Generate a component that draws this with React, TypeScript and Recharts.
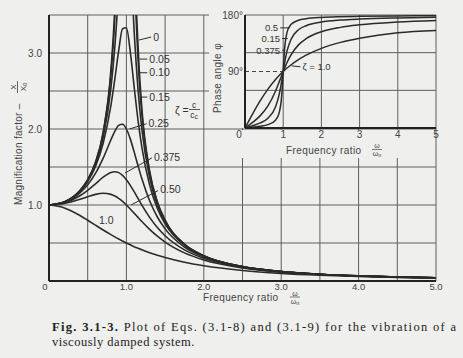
import React from 'react';
import { LineChart, Line, XAxis, YAxis, CartesianGrid, ReferenceLine, ReferenceDot } from 'recharts';

// ---------- Main chart: magnification factor vs frequency ratio ----------
const MAIN_R = [0, 0.2, 0.4, 0.5, 0.6, 0.7, 0.8, 0.85, 0.9, 0.95, 1.0, 1.05, 1.1, 1.15, 1.2, 1.3, 1.4, 1.5, 1.75, 2.0, 2.5, 3.0, 3.5, 4.0, 4.5, 5.0];
const MAG_Z0 = [1, 1.042, 1.19, 1.333, 1.563, 1.96, 2.78, 3.6, 5.26, 10.26, null, 9.76, 4.76, 3.1, 2.27, 1.449, 1.042, 0.8, 0.485, 0.333, 0.19, 0.125, 0.089, 0.067, 0.052, 0.042];
const MAG_Z005 = [1, 1.041, 1.189, 1.33, 1.556, 1.943, 2.712, 3.446, 4.757, 7.35, 10.0, 6.82, 4.22, 2.92, 2.193, 1.424, 1.031, 0.794, 0.483, 0.333, 0.19, 0.125, 0.089, 0.067, 0.052, 0.042];
const MAG_Z010 = [1, 1.041, 1.185, 1.322, 1.536, 1.891, 2.538, 3.073, 3.821, 4.68, 5.0, 4.28, 3.288, 2.525, 1.995, 1.356, 1.0, 0.778, 0.478, 0.33, 0.19, 0.125, 0.089, 0.067, 0.052, 0.042];
const MAG_Z015 = [1, 1.04, 1.179, 1.307, 1.504, 1.813, 2.311, 2.654, 3.029, 3.32, 3.333, 3.019, 2.556, 2.117, 1.759, 1.262, 0.954, 0.753, 0.47, 0.327, 0.189, 0.124, 0.089, 0.067, 0.052, 0.042];
const MAG_Z025 = [1, 1.036, 1.158, 1.265, 1.415, 1.617, 1.858, 1.97, 2.047, 2.062, 2.0, 1.87, 1.699, 1.517, 1.344, 1.055, 0.842, 0.686, 0.446, 0.316, 0.185, 0.123, 0.088, 0.066, 0.052, 0.041];
const MAG_Z0375 = [1, 1.029, 1.121, 1.193, 1.278, 1.366, 1.429, 1.438, 1.426, 1.39, 1.333, 1.259, 1.175, 1.086, 0.998, 0.837, 0.703, 0.595, 0.409, 0.298, 0.179, 0.12, 0.087, 0.065, 0.051, 0.041];
const MAG_Z050 = [1, 1.02, 1.075, 1.109, 1.14, 1.155, 1.14, 1.118, 1.087, 1.047, 1.0, 0.948, 0.893, 0.837, 0.782, 0.679, 0.589, 0.512, 0.37, 0.277, 0.172, 0.117, 0.085, 0.064, 0.051, 0.041];
const MAG_Z100 = [1, 0.962, 0.862, 0.8, 0.735, 0.671, 0.61, 0.581, 0.552, 0.526, 0.5, 0.476, 0.452, 0.431, 0.41, 0.372, 0.338, 0.308, 0.246, 0.2, 0.138, 0.1, 0.0755, 0.0588, 0.047, 0.0385];

const MAIN_X_TICKS = [0, 1, 2, 3, 4, 5];
const MAIN_X_LABELS = ['0', '1.0', '2.0', '3.0', '4.0', '5.0'];
const MAIN_X_GRID = [0.5, 1, 1.5, 2, 2.5, 3, 3.5, 4, 4.5, 5];
const MAIN_Y_TICKS = [1, 2, 3];
const MAIN_Y_LABELS = ['1.0', '2.0', '3.0'];
const MAIN_Y_GRID = [0.5, 1, 1.5, 2, 2.5, 3, 3.5];

// ---------- Inset: phase angle vs frequency ratio ----------
const PHASE_R = [0, 0.2, 0.4, 0.6, 0.8, 0.9, 0.95, 0.97, 0.99, 1.0, 1.01, 1.03, 1.05, 1.1, 1.2, 1.4, 1.6, 2, 2.5, 3, 4, 5];
const PHASE_Z005 = [0, 1.2, 2.7, 5.4, 12.5, 25.3, 44.3, 58.6, 78.6, 90, 101.3, 120.6, 134.3, 152.4, 164.7, 171.7, 174.1, 176.2, 177.3, 177.9, 178.5, 178.8];
const PHASE_Z015 = [0, 3.6, 8.1, 15.7, 33.7, 54.9, 71.1, 78.5, 86.2, 90, 93.8, 100.9, 108.0, 122.5, 140.7, 156.4, 162.9, 168.7, 171.9, 173.6, 175.4, 176.4];
const PHASE_Z0375 = [0, 8.9, 19.7, 35.1, 59.0, 74.3, 82.2, 85.4, 88.5, 90, 91.5, 94.5, 97.4, 104.3, 116.1, 132.4, 142.4, 153.4, 160.3, 164.3, 168.7, 171.1];
const PHASE_Z100 = [0, 22.6, 43.6, 61.9, 77.3, 84.0, 87.1, 88.3, 89.4, 90, 90.6, 91.7, 92.8, 95.5, 100.4, 108.9, 116.0, 126.9, 136.4, 143.1, 151.9, 155.5];

const INSET_X_TICKS = [0, 1, 2, 3, 4, 5];
const INSET_Y_TICKS = [90, 180];
const INSET_Y_GRID = [60, 120, 180];

const PAPER = '#efefed';
const INK = '#2b2b2b';
const GRID = '#5e5e5e';
const SANS = '"Liberation Sans", Arial, sans-serif';
const SERIF = '"Liberation Serif", "Times New Roman", serif';

const toData = (xs: number[], ys: (number | null)[]) => xs.map((x, i) => ({ x, y: ys[i] }));

const MAIN_SERIES = [MAG_Z0, MAG_Z005, MAG_Z010, MAG_Z015, MAG_Z025, MAG_Z0375, MAG_Z050, MAG_Z100].map((ys) => toData(MAIN_R, ys));
const INSET_SERIES = [PHASE_Z005, PHASE_Z015, PHASE_Z0375, PHASE_Z100].map((ys) => toData(PHASE_R, ys));

const labelStyle = { fill: '#333', fontSize: 10.5, fontFamily: SANS };
const insetLabelStyle = { fill: '#333', fontSize: 9.5, fontFamily: SANS };

const MainXTick = (props: any) => {
  const { x, y, payload } = props;
  const idx = MAIN_X_TICKS.indexOf(payload.value);
  const shift = payload.value === 0 ? -4 : 0;
  return (
    <text x={x + shift} y={y} dy="0.71em" textAnchor="middle" fill="#444" fontSize={9.5} fontFamily={SANS}>
      {idx >= 0 ? MAIN_X_LABELS[idx] : ''}
    </text>
  );
};

const InsetXTick = (props: any) => {
  const { x, y, payload } = props;
  const shift = payload.value === 0 ? -6 : 0;
  return (
    <text x={x + shift} y={y} dy="0.71em" textAnchor="middle" fill="#444" fontSize={10} fontFamily={SANS}>
      {String(payload.value)}
    </text>
  );
};

const MAIN_ANNOT = [
  { seg: [{ x: 1.16, y: 3.17 }, { x: 1.32, y: 3.21 }], text: '0', at: { x: 1.32, y: 3.21 } },
  { seg: [{ x: 1.17, y: 2.92 }, { x: 1.27, y: 2.92 }], text: '0.05', at: { x: 1.27, y: 2.92 } },
  { seg: [{ x: 1.17, y: 2.74 }, { x: 1.27, y: 2.74 }], text: '0.10', at: { x: 1.27, y: 2.74 } },
  { seg: [{ x: 1.17, y: 2.42 }, { x: 1.27, y: 2.42 }], text: '0.15', at: { x: 1.27, y: 2.42 } },
  { seg: [{ x: 1.04, y: 2.0 }, { x: 1.26, y: 2.07 }], text: '0.25', at: { x: 1.26, y: 2.07 } },
  { seg: [{ x: 0.98, y: 1.42 }, { x: 1.33, y: 1.62 }], text: '0.375', at: { x: 1.33, y: 1.63 } },
  { seg: [{ x: 1.06, y: 1.0 }, { x: 1.41, y: 1.19 }], text: '0.50', at: { x: 1.41, y: 1.21 } },
];

const INSET_ANNOT = [
  { seg: [{ x: 0.92, y: 159.5 }, { x: 1.17, y: 159.5 }], text: '0.5', at: { x: 0.92, y: 159.5 }, pos: 'left' },
  { seg: [{ x: 0.97, y: 142.5 }, { x: 1.12, y: 142.5 }], text: '0.15', at: { x: 0.97, y: 142.5 }, pos: 'left' },
  { seg: [{ x: 0.97, y: 124 }, { x: 1.05, y: 124 }], text: '0.375', at: { x: 0.97, y: 124 }, pos: 'left' },
  { seg: [{ x: 1.22, y: 99 }, { x: 1.45, y: 97.5 }], text: 'ζ = 1.0', at: { x: 1.45, y: 97.5 }, pos: 'right' },
];

export default function App() {
  return (
    <div style={{ position: 'absolute', left: 0, top: 0, width: 463, height: 358, background: PAPER, overflow: 'hidden' }}>
      <div style={{ position: 'absolute', left: 0, top: 0 }}>
        <LineChart width={463} height={358} margin={{ top: 15, right: 27, bottom: 76, left: 48 }}>
          <CartesianGrid stroke={GRID} strokeWidth={1} horizontalValues={MAIN_Y_GRID} verticalValues={MAIN_X_GRID} />
          <XAxis
            type="number"
            dataKey="x"
            domain={[0, 5]}
            ticks={MAIN_X_TICKS}
            interval={0}
            allowDataOverflow
            height={1}
            tickLine={false}
            tickSize={0}
            tickMargin={2}
            axisLine={{ stroke: '#222', strokeWidth: 2 }}
            tick={(p: any) => <MainXTick {...p} />}
          />
          <YAxis
            type="number"
            domain={[0, 3.5]}
            ticks={MAIN_Y_TICKS}
            interval={0}
            allowDataOverflow
            width={1}
            tickLine={false}
            tickSize={0}
            tickMargin={7}
            axisLine={{ stroke: '#222', strokeWidth: 2 }}
            tickFormatter={(v: number) => MAIN_Y_LABELS[MAIN_Y_TICKS.indexOf(v)] ?? ''}
            tick={{ fill: '#444', fontSize: 10, fontFamily: SANS }}
          />
          {MAIN_SERIES.map((d, i) => (
            <Line
              key={'m' + i}
              data={d}
              dataKey="y"
              type="monotone"
              stroke={INK}
              strokeWidth={1.6}
              dot={false}
              activeDot={false}
              isAnimationActive={false}
              connectNulls={false}
            />
          ))}
          {MAIN_ANNOT.map((a, i) => (
            <ReferenceLine key={'ml' + i} segment={a.seg} stroke={INK} strokeWidth={1} />
          ))}
          {MAIN_ANNOT.map((a, i) => (
            <ReferenceDot
              key={'md' + i}
              x={a.at.x}
              y={a.at.y}
              r={0}
              fill="none"
              stroke="none"
              label={{ value: a.text, position: 'right', offset: 2, ...labelStyle }}
            />
          ))}
          <ReferenceDot x={0.74} y={0.8} r={0} fill="none" stroke="none" label={{ value: '1.0', position: 'center', ...labelStyle }} />
        </LineChart>
      </div>

      {/* blank area behind the inset */}
      <div style={{ position: 'absolute', left: 209, top: 14, width: 228, height: 114, background: PAPER }} />
      <div style={{ position: 'absolute', left: 236, top: 129.5, width: 199, height: 28, background: PAPER }} />

      <div style={{ position: 'absolute', left: 0, top: 0 }}>
        <LineChart width={463} height={358} margin={{ top: 15, right: 27, bottom: 229, left: 244 }}>
          <CartesianGrid stroke={GRID} strokeWidth={1} horizontalValues={INSET_Y_GRID} verticalValues={INSET_X_TICKS} />
          <XAxis
            type="number"
            dataKey="x"
            domain={[0, 5]}
            ticks={INSET_X_TICKS}
            interval={0}
            height={1}
            tickLine={false}
            tickSize={0}
            tickMargin={3}
            axisLine={{ stroke: '#222', strokeWidth: 2 }}
            tick={(p: any) => <InsetXTick {...p} />}
          />
          <YAxis
            type="number"
            domain={[0, 180]}
            ticks={INSET_Y_TICKS}
            interval={0}
            width={1}
            tickLine={false}
            tickSize={0}
            tickMargin={2}
            axisLine={{ stroke: '#222', strokeWidth: 2 }}
            tickFormatter={(v: number) => v + '°'}
            tick={{ fill: '#444', fontSize: 10, fontFamily: SANS }}
          />
          <ReferenceLine segment={[{ x: 0, y: 90 }, { x: 1, y: 90 }]} stroke="#444" strokeWidth={1} strokeDasharray="4 3" />
          {INSET_SERIES.map((d, i) => (
            <Line
              key={'p' + i}
              data={d}
              dataKey="y"
              type="monotone"
              stroke={INK}
              strokeWidth={1.5}
              dot={false}
              activeDot={false}
              isAnimationActive={false}
            />
          ))}
          {INSET_ANNOT.map((a, i) => (
            <ReferenceLine key={'il' + i} segment={a.seg} stroke={INK} strokeWidth={1} />
          ))}
          {INSET_ANNOT.map((a, i) => (
            <ReferenceDot
              key={'id' + i}
              x={a.at.x}
              y={a.at.y}
              r={0}
              fill="none"
              stroke="none"
              label={{ value: a.text, position: a.pos as any, offset: 2, ...insetLabelStyle }}
            />
          ))}
        </LineChart>
      </div>

      <svg width={463} height={358} style={{ position: 'absolute', left: 0, top: 0, pointerEvents: 'none' }}>
        {/* main y-axis title */}
        <g transform="translate(18,140) rotate(-90)" fill="#444" fontFamily={SANS}>
          <text x={-65} y={0} dominantBaseline="central" fontSize={10} letterSpacing={0.3}>Magnification factor –</text>
          <text x={53} y={-2.5} textAnchor="middle" fontSize={8}>X</text>
          <line x1={47} y1={-0.5} x2={59} y2={-0.5} stroke="#444" strokeWidth={0.8} />
          <text x={53} y={7.5} textAnchor="middle" fontSize={8}>X<tspan fontSize={6} dy={1.5}>0</tspan></text>
        </g>
        {/* main x-axis title */}
        <g fill="#444" fontFamily={SANS}>
          <text x={203} y={301} fontSize={10} letterSpacing={0.4}>Frequency ratio</text>
          <text x={295} y={295.5} textAnchor="middle" fontSize={7}>ω</text>
          <line x1={290} y1={297} x2={300} y2={297} stroke="#444" strokeWidth={0.7} />
          <text x={295} y={303.5} textAnchor="middle" fontSize={7}>ω<tspan fontSize={5.5} dy={1}>n</tspan></text>
        </g>
        {/* zeta definition */}
        <g fill="#333" fontFamily={SANS}>
          <text x={175} y={110} dominantBaseline="central" fontSize={10.5}>ζ =</text>
          <text x={194} y={107.5} textAnchor="middle" fontSize={8.5}>c</text>
          <line x1={189} y1={109.5} x2={200} y2={109.5} stroke="#333" strokeWidth={0.8} />
          <text x={194} y={118} textAnchor="middle" fontSize={8.5}>c<tspan fontSize={6.5} dy={1}>c</tspan></text>
        </g>
        {/* inset y-axis title */}
        <g transform="translate(217.5,78) rotate(-90)" fill="#444" fontFamily={SANS}>
          <text x={0} y={0} textAnchor="middle" dominantBaseline="central" fontSize={10} letterSpacing={0.4}>Phase angle φ</text>
        </g>
        {/* inset x-axis title */}
        <g fill="#444" fontFamily={SANS}>
          <text x={286} y={153.5} fontSize={10} letterSpacing={0.4}>Frequency ratio</text>
          <text x={377} y={148} textAnchor="middle" fontSize={7}>ω</text>
          <line x1={372} y1={149.5} x2={382} y2={149.5} stroke="#444" strokeWidth={0.7} />
          <text x={377} y={156} textAnchor="middle" fontSize={7}>ω<tspan fontSize={5.5} dy={1}>n</tspan></text>
        </g>
        {/* caption */}
        <text x={52} y={331} fontFamily={SERIF} fontSize={12.5} fill="#222" textLength={404} lengthAdjust="spacing">
          <tspan fontWeight="bold">Fig. 3.1-3.</tspan> Plot of Eqs. (3.1-8) and (3.1-9) for the vibration of a
        </text>
        <text x={52} y={345.5} fontFamily={SERIF} fontSize={12.5} fill="#222" letterSpacing={0.5}>
          viscously damped system.
        </text>
      </svg>
    </div>
  );
}
